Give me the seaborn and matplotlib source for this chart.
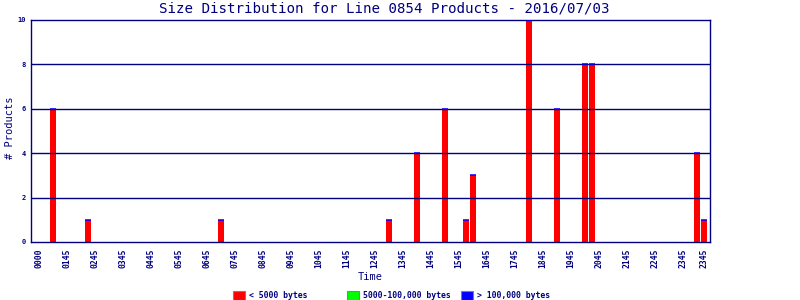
import numpy as np
import pandas as pd
import seaborn as sns
import matplotlib
matplotlib.use("Agg")
import matplotlib.pyplot as plt
from matplotlib.patches import Rectangle

# ---- data (15-minute slots, only non-empty ones listed) ----
bar_times = ["0030", "0145", "0630", "1230", "1330", "1430", "1515", "1530",
             "1730", "1830", "1930", "1945", "2330", "2345"]
small_counts = [6, 1, 1, 1, 4, 6, 1, 3, 10, 6, 8, 8, 4, 1]      # < 5000 bytes
medium_counts = [0, 0, 0, 0, 0, 0, 0, 0, 0, 0, 0, 0, 0, 0]      # 5000-100,000 bytes
large_counts = [0, 0, 0, 0, 0, 0, 0, 0, 0, 0, 0, 0, 0, 0]       # > 100,000 bytes

tick_slots = ["0000", "0100", "0200", "0300", "0400", "0500", "0600", "0700",
              "0800", "0900", "1000", "1100", "1200", "1300", "1400", "1500",
              "1600", "1700", "1800", "1900", "2000", "2100", "2200", "2300", "2345"]
tick_labels = ["0000", "0145", "0245", "0345", "0445", "0545", "0645", "0745",
               "0845", "0945", "1045", "1145", "1245", "1345", "1445", "1545",
               "1645", "1745", "1845", "1945", "2045", "2145", "2245", "2345", "2345"]
y_ticks = [0, 2, 4, 6, 8, 10]

title = "Size Distribution for Line 0854 Products - 2016/07/03"
legend_labels = ["< 5000 bytes", "5000-100,000 bytes", "> 100,000 bytes"]
colors = ["#ff0000", "#00ff00", "#0000ff"]
NAVY = "#000080"

# ---- build full slot table ----
all_slots = [f"{h:02d}{m:02d}" for h in range(24) for m in (0, 15, 30, 45)]
df = pd.DataFrame({"slot": all_slots})
vals = pd.DataFrame({"slot": bar_times, "small": small_counts,
                     "medium": medium_counts, "large": large_counts})
df = df.merge(vals, on="slot", how="left").fillna(0)
df["total"] = df["small"] + df["medium"] + df["large"]
df["pos"] = np.arange(len(df))

sns.set_theme(style="white")
plt.rcParams["font.family"] = ["DejaVu Sans Mono", "DejaVu Sans"]

fig = plt.figure(figsize=(8, 3), dpi=100)
ax = fig.add_axes([31 / 800, 1 - 242 / 300, 679 / 800, 222 / 300])

sns.barplot(data=df, x="slot", y="small", order=all_slots, color=colors[0],
            saturation=1, width=6 / 7, linewidth=0, errorbar=None, ax=ax, zorder=1)

nz = df[df["total"] > 0]
sns.scatterplot(data=nz, x="pos", y="total", marker="_", s=19, color=colors[2],
                linewidth=1.1, ax=ax, zorder=4, legend=False)

ax.set_xlim(-1.14, 95.86)
ax.set_ylim(0, 10)

for y in y_ticks[1:-1]:
    ax.axhline(y, color=NAVY, lw=1.0, zorder=3)

for s in ax.spines.values():
    s.set_color(NAVY)
    s.set_linewidth(1.0)

tick_pos = [all_slots.index(t) for t in tick_slots]
ax.set_xticks(tick_pos)
ax.set_xticklabels(tick_labels, rotation=90, fontsize=5.8, color=NAVY,
                   fontweight="bold")
ax.set_yticks(y_ticks)
ax.set_yticklabels([str(v) for v in y_ticks], fontsize=5, color=NAVY,
                   fontweight="bold")
ax.tick_params(axis="x", length=0, pad=5)
ax.tick_params(axis="y", length=0, pad=3.5)

ax.set_xlabel("Time", fontsize=7.5, color=NAVY)
ax.xaxis.set_label_coords(0.499, -0.135)
ax.set_ylabel("# Products", fontsize=7.5, color=NAVY)
ax.yaxis.set_label_coords(-0.024, 0.513)

fig.text(384 / 800, 1 - 8.5 / 300, title, ha="center", va="center",
         fontsize=10.2, color=NAVY)

# legend
leg_x = [233, 347, 461]
for x0, lab, c in zip(leg_x, legend_labels, colors):
    fig.add_artist(Rectangle((x0 / 800, 0.5 / 300), 12 / 800, 9 / 300,
                             transform=fig.transFigure, facecolor=c,
                             edgecolor="#808080", linewidth=0.8))
    fig.text((x0 + 16) / 800, 1 - 295.5 / 300, lab, ha="left", va="center",
             fontsize=5.9, color=NAVY, fontweight="bold")

fig.savefig("out.png", dpi=100)
